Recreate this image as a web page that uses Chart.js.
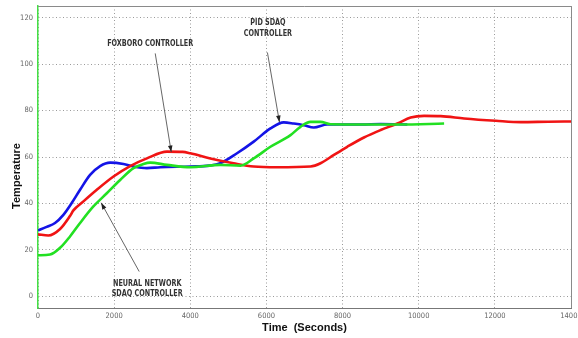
<!DOCTYPE html>
<html>
<head>
<meta charset="utf-8">
<script src="https://cdn.jsdelivr.net/npm/chart.js@4/dist/chart.umd.min.js"></script>
<style>
  html, body { margin: 0; padding: 0; background: #fff; }
</style>
</head>
<body>
<canvas id="chart" width="578" height="338"></canvas>
<script>
// ── data ──────────────────────────────────────────────────────────
const pidTime = [0, 228, 447, 667, 886, 1105, 1368, 1632, 1895, 2245, 2508, 2860, 3210, 4000, 4500, 4789, 5228, 5666, 6105, 6456, 6719, 6982, 7245, 7596, 8000, 8500, 9000, 9700];
const pidTemp = [28.4, 29.9, 31.6, 35.1, 40.2, 45.9, 52.3, 56.1, 57.6, 57, 55.9, 55.2, 55.6, 55.9, 56.3, 57.3, 61.6, 66.6, 72.3, 74.9, 74.4, 73.7, 72.7, 74, 74, 74, 74.2, 74];

const foxTime = [0, 272, 580, 840, 930, 1193, 1545, 1983, 2420, 2860, 3387, 3800, 4000, 4526, 5140, 5666, 6281, 7158, 7421, 7772, 8123, 8561, 9000, 9439, 9789, 10140, 10579, 11193, 12026, 12684, 13400, 14000];
const foxTemp = [26.7, 26.2, 29, 34.6, 37, 40.9, 45.9, 51.6, 56.1, 59.4, 62.3, 62.2, 61.6, 59.4, 57.3, 55.9, 55.6, 55.9, 57.3, 60.9, 64.4, 68.4, 71.6, 74.4, 77, 77.7, 77.6, 76.6, 75.6, 75, 75.2, 75.3];

const nnTime = [0, 316, 580, 840, 1105, 1455, 1807, 2158, 2508, 2770, 2947, 3387, 4000, 4789, 5316, 5666, 6105, 6632, 6895, 7158, 7421, 7684, 8500, 9500, 10667];
const nnTemp = [17.7, 18, 20.9, 25.8, 31.6, 38.7, 44.4, 50.1, 55.2, 57, 57.6, 56.6, 55.6, 56.6, 56.3, 59.4, 64.4, 69.4, 73, 75.1, 75.1, 74.1, 74, 74, 74.4];

const xTicks = [0, 2000, 4000, 6000, 8000, 10000, 12000, 14000];
const yTicks = [0, 20, 40, 60, 80, 100, 120];

// annotations, in data units
const noteText  = [['FOXBORO CONTROLLER'], ['PID SDAQ', 'CONTROLLER'], ['NEURAL NETWORK', 'SDAQ CONTROLLER']];
const noteAt    = [[2947, 108.9], [6040, 115.5], [2868, 3.4]];
const arrowFrom = [[3079, 104.6], [6026, 105], [2658, 10.7]];
const arrowTo   = [[3500, 62.1], [6342, 75], [1658, 40.3]];

const narrow = "'Liberation Sans Narrow', 'DejaVu Sans Condensed', 'Arial Narrow', sans-serif";
const toXY = (ts, vs) => ts.map((t, i) => ({ x: t, y: vs[i] }));

// ── frame, titles and arrows ──────────────────────────────────────
const decorPlugin = {
  id: 'decor',
  beforeDatasetsDraw(chart) {
    const { ctx, chartArea: a } = chart;
    ctx.save();
    ctx.strokeStyle = '#8a8a8a';
    ctx.lineWidth = 1;
    ctx.beginPath();
    ctx.moveTo(a.left, a.top + 0.5); ctx.lineTo(a.right + 0.5, a.top + 0.5);
    ctx.lineTo(a.right + 0.5, a.bottom);
    ctx.stroke();
    ctx.restore();
  },
  afterDatasetsDraw(chart) {
    const { ctx, scales: { x, y } } = chart;
    ctx.save();

    // arrows
    arrowFrom.forEach((p, i) => {
      const x0 = x.getPixelForValue(p[0]), y0 = y.getPixelForValue(p[1]);
      const x1 = x.getPixelForValue(arrowTo[i][0]), y1 = y.getPixelForValue(arrowTo[i][1]);
      const ang = Math.atan2(y1 - y0, x1 - x0);
      ctx.strokeStyle = '#555';
      ctx.lineWidth = 0.9;
      ctx.beginPath(); ctx.moveTo(x0, y0); ctx.lineTo(x1, y1); ctx.stroke();
      ctx.fillStyle = '#222';
      ctx.beginPath();
      ctx.moveTo(x1, y1);
      ctx.lineTo(x1 - 7 * Math.cos(ang - 0.33), y1 - 7 * Math.sin(ang - 0.33));
      ctx.lineTo(x1 - 7 * Math.cos(ang + 0.33), y1 - 7 * Math.sin(ang + 0.33));
      ctx.closePath(); ctx.fill();
    });

    // labels (squeezed sideways like the narrow font in the original)
    ctx.fillStyle = '#333';
    ctx.font = 'bold 9px ' + narrow;
    ctx.textAlign = 'center';
    ctx.textBaseline = 'middle';
    noteText.forEach((lines, i) => {
      const cx = x.getPixelForValue(noteAt[i][0]);
      const cy = y.getPixelForValue(noteAt[i][1]);
      const lh = 10.4;
      ctx.save();
      ctx.translate(cx, cy);
      ctx.scale(0.8, 1);
      lines.forEach((s, k) => ctx.fillText(s, 0, (k - (lines.length - 1) / 2) * lh));
      ctx.restore();
    });

    // y title
    ctx.fillStyle = '#111';
    ctx.font = 'bold 11px Arial, "Liberation Sans", sans-serif';
    ctx.translate(17, 176);
    ctx.rotate(-Math.PI / 2);
    ctx.fillText('Temperature', 0, 0);
    ctx.restore();
  }
};

new Chart(document.getElementById('chart'), {
  type: 'line',
  data: {
    datasets: [
      { label: 'Neural Network SDAQ', data: toXY(nnTime, nnTemp),
        borderColor: '#22e022', borderWidth: 2.6, pointRadius: 0, cubicInterpolationMode: 'monotone' },
      { label: 'Foxboro', data: toXY(foxTime, foxTemp),
        borderColor: '#f01414', borderWidth: 2.6, pointRadius: 0, cubicInterpolationMode: 'monotone' },
      { label: 'PID SDAQ', data: toXY(pidTime, pidTemp),
        borderColor: '#1414e6', borderWidth: 2.6, pointRadius: 0, cubicInterpolationMode: 'monotone' },
    ]
  },
  options: {
    responsive: false,
    animation: false,
    layout: { padding: { top: 6, right: 7, left: 0, bottom: 0 } },
    plugins: { legend: { display: false }, tooltip: { enabled: false } },
    scales: {
      x: {
        type: 'linear', min: 0, max: 14000,
        afterBuildTicks: s => { s.ticks = xTicks.map(v => ({ value: v })); },
        afterFit: s => { s.height = 30; s.paddingLeft = 0; s.paddingRight = 0; },
        grid: { color: '#9a9a9a', lineWidth: 1, drawTicks: false },
        border: { color: '#777', width: 1, dash: [1, 2.5] },
        ticks: { color: '#666', padding: 4, maxRotation: 0, autoSkip: false,
                 callback: v => String(v),
                 font: { family: narrow, size: 7.5 } },
        title: { display: true, text: 'Time  (Seconds)', color: '#111',
                 font: { family: 'Arial, "Liberation Sans", sans-serif', size: 11, weight: 'bold' },
                 padding: { top: 0, bottom: 3 } }
      },
      y: {
        min: -5, max: 125,
        afterBuildTicks: s => { s.ticks = yTicks.map(v => ({ value: v })); },
        afterFit: s => { s.width = 38; s.paddingTop = 0; s.paddingBottom = 0; },
        grid: { color: '#9a9a9a', lineWidth: 1, drawTicks: false },
        border: { color: '#44e044', width: 1.5, dash: [1, 2.5] },
        ticks: { color: '#666', padding: 5, callback: v => String(v),
                 font: { family: narrow, size: 7.5 } }
      }
    }
  },
  plugins: [decorPlugin]
});
</script>
</body>
</html>
